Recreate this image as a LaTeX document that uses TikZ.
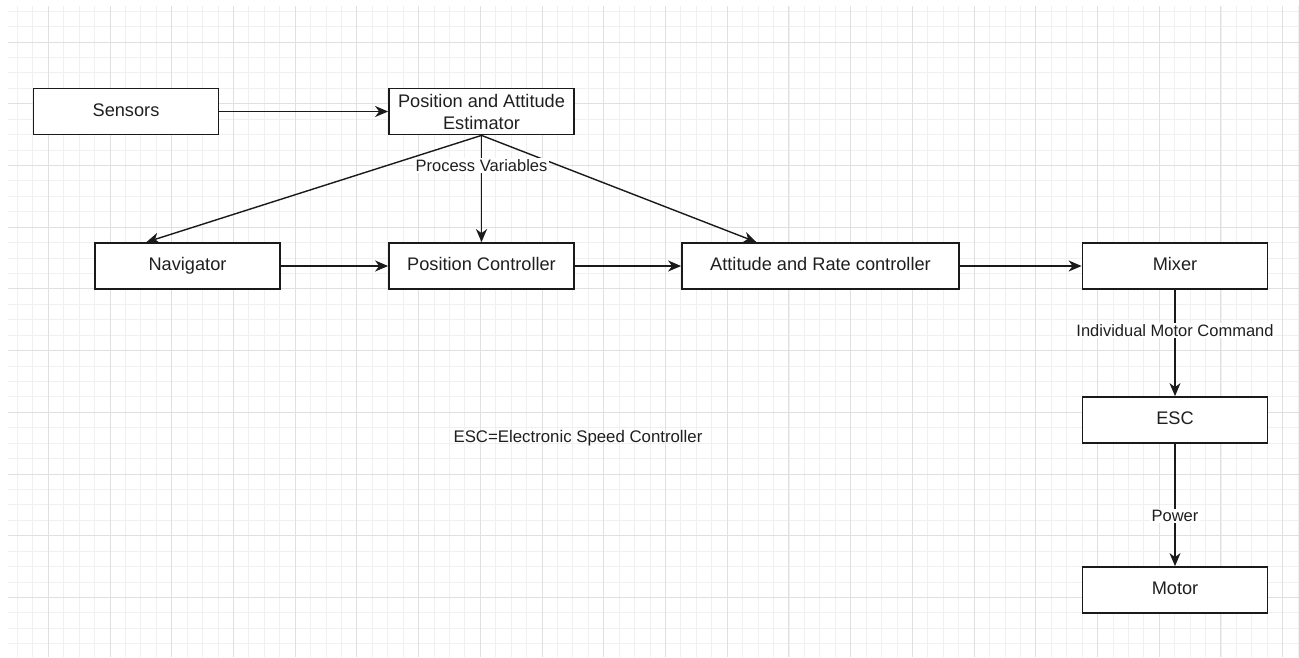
\documentclass[tikz,border=0pt]{standalone}
\usepackage{fontspec}
\setmainfont{Liberation Sans}
\usetikzlibrary{arrows.meta,calc}
\definecolor{ink}{HTML}{1A1A1A}
\definecolor{txt}{HTML}{1F1F1F}
\definecolor{gridminor}{HTML}{F0F0F0}
\definecolor{gridmajor}{HTML}{E0E0E0}
\tikzset{
  block/.style={draw=ink, line width=1.8pt, fill=white, minimum width=185pt,
    minimum height=46pt, inner sep=0pt, text=txt, align=center,
    text height=13.2pt, text depth=3.8pt,
    font=\fontsize{18.2}{22}\selectfont},
  flow/.style={draw=ink, line width=1.4pt,
    -{Stealth[length=13pt,width=11pt,inset=4pt]}},
  tag/.style={fill=white, text=txt, inner sep=1.5pt,
    font=\fontsize{16.5}{19}\selectfont},
  note/.style={text=txt, inner sep=0pt, font=\fontsize{16.8}{19}\selectfont},
}
\begin{document}
\begin{tikzpicture}[x=1pt,y=-1pt]
\useasboundingbox (0,0) rectangle (1299,657);
\fill[white] (0,0) rectangle (1299,657);
% background grid: fine lines, with a heavier line every fourth cell
\begin{scope}
\clip (8,6) rectangle (1299,657);
\foreach \xx in {17.5,32.93,...,1300} \draw[gridminor, line width=1pt] (\xx,0) -- (\xx,657);
\foreach \yy in {11.2,26.63,...,660} \draw[gridminor, line width=1pt] (0,\yy) -- (1299,\yy);
\foreach \xx in {48.3,110.02,...,1300} \draw[gridmajor, line width=1pt] (\xx,0) -- (\xx,657);
\foreach \yy in {42,103.72,...,660} \draw[gridmajor, line width=1pt] (0,\yy) -- (1299,\yy);
\end{scope}

% blocks
\node[block] (sens) at (126,111.5) {Sensors};
\node[block, text height=, text depth=] (est) at (481.5,111.5) {Position and Attitude\\Estimator};
\node[block] (nav)  at (187.5,266) {Navigator};
\node[block] (pos)  at (481.5,266) {Position Controller};
\node[block, minimum width=277pt] (att) at (820.5,266) {Attitude and Rate controller};
\node[block] (mix)  at (1175,266) {Mixer};
\node[block] (esc)  at (1175,420) {ESC};
\node[block] (mot)  at (1175,590) {Motor};

\coordinate (navin) at ($(nav.north west)!0.28!(nav.north east)$);
\coordinate (attin) at ($(att.north west)!0.27!(att.north east)$);

% connectors
\draw[flow] (sens) -- (est);
\draw[flow] (est.south) -- (navin);
\draw[flow] (est.south) -- (attin);
\draw[flow] (est.south) -- node[tag, pos=0.28] (pv) {Process Variables} (pos.north);
\draw[flow] (nav) -- (pos);
\draw[flow] (pos) -- (att);
\draw[flow] (att) -- (mix);
\draw[flow] (mix) -- node[tag, pos=0.38] (imc) {Individual Motor Command} (esc);
\draw[flow] (esc) -- node[tag, pos=0.59] (pw) {Power} (mot);

\node[note] (escnote) at (578,438) {ESC=Electronic Speed Controller};
\end{tikzpicture}
\end{document}
